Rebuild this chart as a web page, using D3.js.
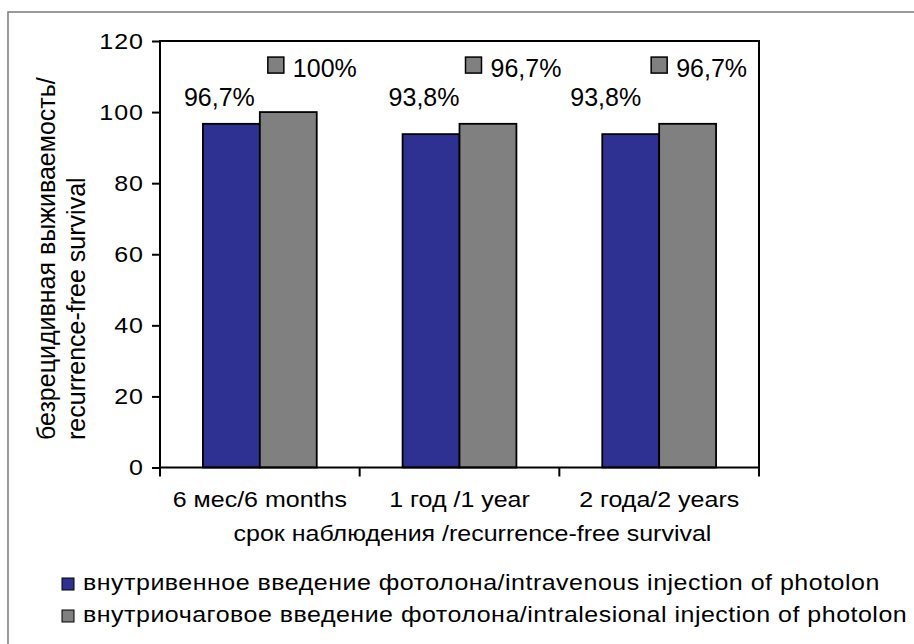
<!DOCTYPE html>
<html>
<head>
<meta charset="utf-8">
<script src="https://cdn.jsdelivr.net/npm/d3@7"></script>
<style>
  body { margin: 0; background: #fff; }
  svg { display: block; font-family: "Liberation Sans", Arial, sans-serif; }
</style>
</head>
<body>
<div id="chart"></div>
<script>
// Chart data
const categories = ["6 мес/6 months", "1 год /1 year", "2 года/2 years"];
const intravenous = [96.7, 93.8, 93.8];
const intralesional = [100, 96.7, 96.7];
const seriesNames = [
    "внутривенное введение фотолона/intravenous injection of photolon",
    "внутриочаговое введение фотолона/intralesional injection of photolon"
];
const yTicks = [0, 20, 40, 60, 80, 100, 120];
const yTitle = ["безрецидивная выживаемость/", "recurrence-free survival"];
const xTitle = "срок наблюдения /recurrence-free survival";

const width = 914;
const height = 644;
const colors = ["#2f3192", "#808080"];
const squash = "scale(1,0.9)"; // text in the source looks flattened vertically

// plot area
const pLeft = 160, pRight = 759, pTop = 41, pBottom = 467.5;

const svg = d3.select("#chart")
    .append("svg")
    .attr("width", width)
    .attr("height", height);

// outer frame (cut off on the right and bottom in the original)
svg.append("path")
    .attr("d", `M8,${height + 5}V12H${width + 5}`)
    .attr("fill", "none")
    .attr("stroke", "#7a7a7a")
    .attr("stroke-width", 1.5);

const y = d3.scaleLinear()
    .domain([0, 120])
    .range([pBottom, pTop]);

const x0 = d3.scaleBand()
    .domain(categories)
    .range([pLeft, pRight])
    .paddingInner(0.43)
    .paddingOuter(0.215);

const x1 = d3.scaleBand()
    .domain([0, 1])
    .range([0, x0.bandwidth()]);

const rows = categories.map((c, i) => ({ cat: c, values: [intravenous[i], intralesional[i]] }));

// bars
const groups = svg.append("g")
    .selectAll("g")
    .data(rows)
    .join("g")
    .attr("transform", d => `translate(${x0(d.cat)},0)`);

groups.selectAll("rect")
    .data(d => d.values.map((v, k) => ({ k, v })))
    .join("rect")
    .attr("x", d => x1(d.k))
    .attr("y", d => y(d.v))
    .attr("width", x1.bandwidth())
    .attr("height", d => y(0) - y(d.v))
    .attr("fill", d => colors[d.k])
    .attr("stroke", "#000")
    .attr("stroke-width", 1.8);

// plot frame
svg.append("rect")
    .attr("x", pLeft)
    .attr("y", pTop)
    .attr("width", pRight - pLeft)
    .attr("height", pBottom - pTop)
    .attr("fill", "none")
    .attr("stroke", "#000")
    .attr("stroke-width", 2);

// y axis
const yAxis = svg.append("g")
    .attr("transform", `translate(${pLeft},0)`)
    .call(d3.axisLeft(y).tickValues(yTicks).tickSize(8).tickPadding(8));
yAxis.select(".domain").remove();
yAxis.selectAll(".tick line").attr("stroke", "#000").attr("stroke-width", 2);
yAxis.selectAll(".tick text")
    .attr("fill", "#000")
    .style("font-size", "25px")
    .style("letter-spacing", "1px")
    .attr("transform", squash);

// x axis ticks sit on the category boundaries
const xAxis = svg.append("g");
xAxis.selectAll("line")
    .data(d3.range(categories.length + 1))
    .join("line")
    .attr("x1", i => pLeft + i * x0.step())
    .attr("x2", i => pLeft + i * x0.step())
    .attr("y1", pBottom)
    .attr("y2", pBottom + 9)
    .attr("stroke", "#000")
    .attr("stroke-width", 2);

xAxis.selectAll("text")
    .data(categories)
    .join("text")
    .attr("transform", d => `translate(${x0(d) + x0.bandwidth() / 2},507) ${squash}`)
    .attr("text-anchor", "middle")
    .style("font-size", "25px")
    .text(d => d);

svg.append("text")
    .attr("transform", `translate(${(pLeft + pRight) / 2 + 13},541) ${squash}`)
    .attr("text-anchor", "middle")
    .style("font-size", "25px")
    .text(xTitle);

// y axis title, two lines, left aligned along the axis
svg.append("g")
    .selectAll("text")
    .data(yTitle)
    .join("text")
    .attr("transform", (d, i) => `translate(${55 + i * 30},440) rotate(-90)`)
    .style("font-size", "25px")
    .text(d => d);

// value labels
const fmt = v => (v % 1 ? v.toFixed(1).replace(".", ",") : v) + "%";
const blueShift = [-12, -7, -25];
const grayShift = [8, 6, -8];

svg.append("g")
    .selectAll("text")
    .data(intravenous)
    .join("text")
    .attr("x", (d, i) => x0(categories[i]) + x1(0) + x1.bandwidth() / 2 + blueShift[i])
    .attr("y", y(d3.max(intravenous)) - 18)
    .attr("text-anchor", "middle")
    .style("font-size", "25px")
    .text(fmt);

const grayLab = svg.append("g")
    .selectAll("g")
    .data(intralesional)
    .join("g")
    .attr("transform", (d, i) => `translate(${x0(categories[i]) + x1(1) + grayShift[i]},${y(d3.max(intralesional)) - 35})`);

grayLab.append("rect")
    .attr("x", 0)
    .attr("y", -20)
    .attr("width", 16)
    .attr("height", 16)
    .attr("fill", colors[1])
    .attr("stroke", "#000")
    .attr("stroke-width", 1.5);

grayLab.append("text")
    .attr("x", 25)
    .attr("y", 0)
    .style("font-size", "25px")
    .text(fmt);

// legend
const legend = svg.append("g")
    .selectAll("g")
    .data(seriesNames)
    .join("g")
    .attr("transform", (d, i) => `translate(62,${578 + i * 32})`);

legend.append("rect")
    .attr("width", 12)
    .attr("height", 12)
    .attr("fill", (d, i) => colors[i])
    .attr("stroke", "#000")
    .attr("stroke-width", 1);

legend.append("text")
    .attr("transform", `translate(21,12) ${squash}`)
    .style("font-size", "25px")
    .style("letter-spacing", "0.5px")
    .text(d => d);
</script>
</body>
</html>
